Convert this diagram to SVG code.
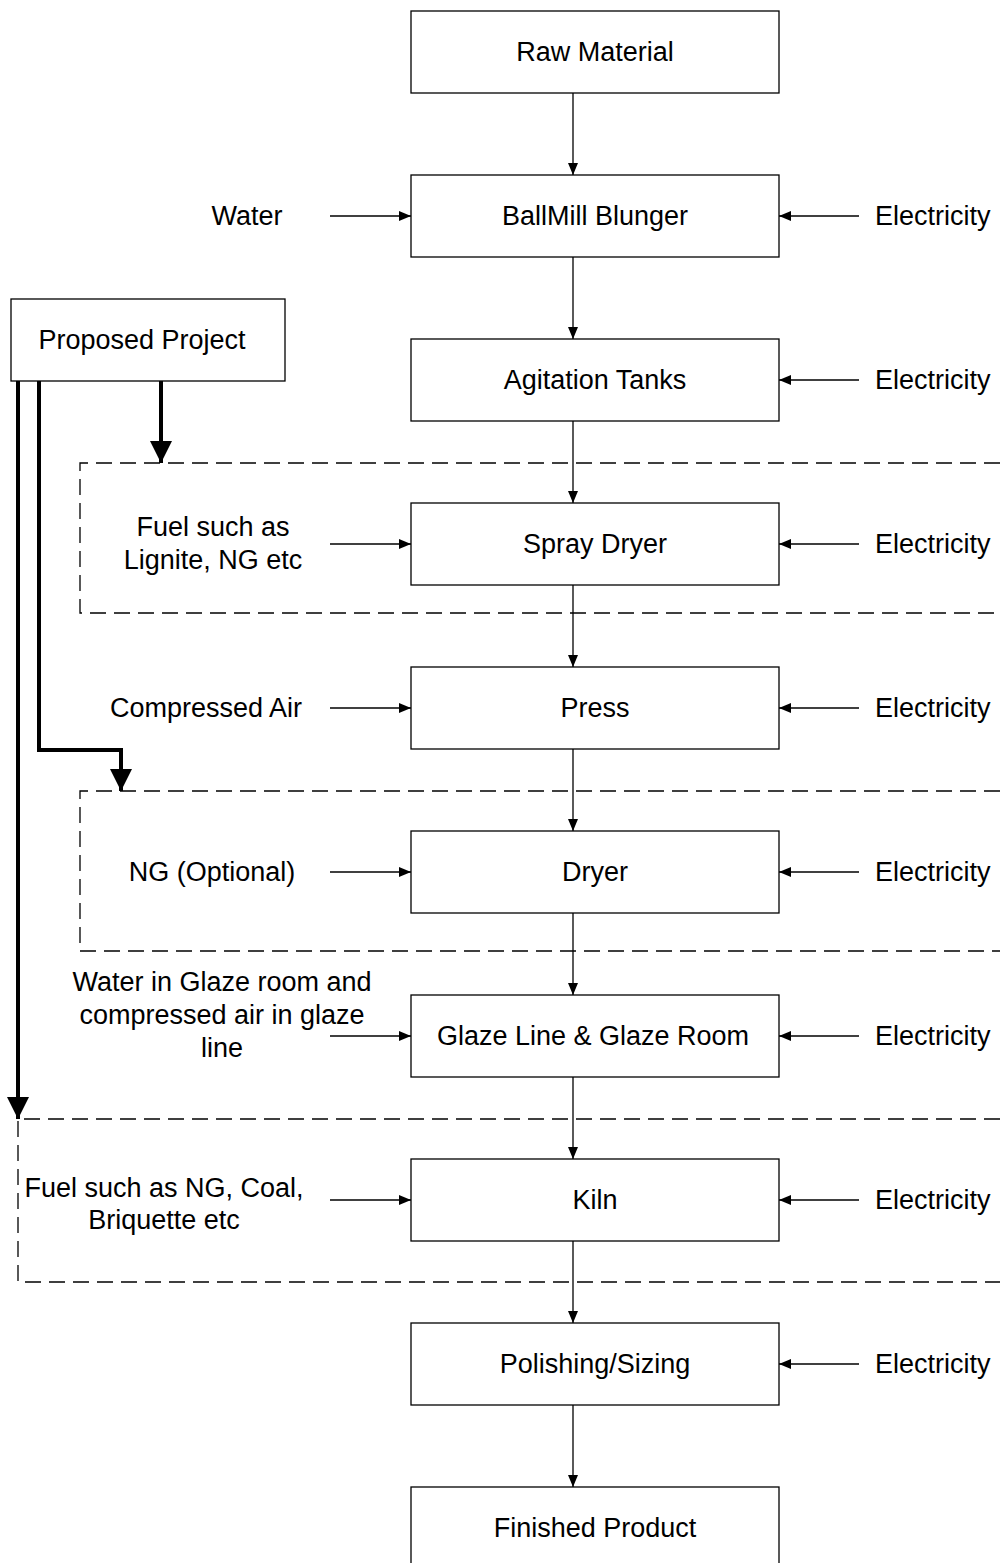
<svg xmlns="http://www.w3.org/2000/svg" width="1000" height="1563" viewBox="0 0 1000 1563">
<defs>
<marker id="ah" viewBox="0 0 12 10" refX="12" refY="5" markerWidth="12" markerHeight="10" markerUnits="userSpaceOnUse" orient="auto"><path d="M0,0 L12,5 L0,10 Z" fill="#000"/></marker>
<marker id="ahb" viewBox="0 0 22 22" refX="22" refY="11" markerWidth="22" markerHeight="22" markerUnits="userSpaceOnUse" orient="auto"><path d="M0,0 L22,11 L0,22 Z" fill="#000"/></marker>
</defs>
<style>
.box{fill:#fff;stroke:#000;stroke-width:1.3}
.t{font-family:"Liberation Sans",Arial,sans-serif;font-size:27px;fill:#000}
.m{text-anchor:middle}
.c{stroke:#000;stroke-width:1.3;fill:none;marker-end:url(#ah)}
.tk{stroke:#000;stroke-width:4;fill:none;marker-end:url(#ahb)}
.d{stroke:#000;stroke-width:1.3;fill:none;stroke-dasharray:16 8}
</style>
<rect width="1000" height="1563" fill="#fff"/>
<g id="dashed">
<path class="d" d="M1000,463 H80 V613 H1000"/>
<path class="d" d="M1000,791 H80 V951 H1000"/>
<path class="d" d="M1000,1119 H18 V1282 H1000"/>
</g>
<g id="connectors">
<line class="c" x1="573" y1="93" x2="573" y2="175"/>
<line class="c" x1="573" y1="257" x2="573" y2="339"/>
<line class="c" x1="573" y1="421" x2="573" y2="503"/>
<line class="c" x1="573" y1="585" x2="573" y2="667"/>
<line class="c" x1="573" y1="749" x2="573" y2="831"/>
<line class="c" x1="573" y1="913" x2="573" y2="995"/>
<line class="c" x1="573" y1="1077" x2="573" y2="1159"/>
<line class="c" x1="573" y1="1241" x2="573" y2="1323"/>
<line class="c" x1="573" y1="1405" x2="573" y2="1487"/>
<line class="c" x1="330" y1="216" x2="411" y2="216"/>
<line class="c" x1="330" y1="544" x2="411" y2="544"/>
<line class="c" x1="330" y1="708" x2="411" y2="708"/>
<line class="c" x1="330" y1="872" x2="411" y2="872"/>
<line class="c" x1="330" y1="1036" x2="411" y2="1036"/>
<line class="c" x1="330" y1="1200" x2="411" y2="1200"/>
<line class="c" x1="859" y1="216" x2="779" y2="216"/>
<line class="c" x1="859" y1="380" x2="779" y2="380"/>
<line class="c" x1="859" y1="544" x2="779" y2="544"/>
<line class="c" x1="859" y1="708" x2="779" y2="708"/>
<line class="c" x1="859" y1="872" x2="779" y2="872"/>
<line class="c" x1="859" y1="1036" x2="779" y2="1036"/>
<line class="c" x1="859" y1="1200" x2="779" y2="1200"/>
<line class="c" x1="859" y1="1364" x2="779" y2="1364"/>
<path class="tk" d="M161,381 V463"/>
<path class="tk" d="M39,381 V750 H121 V791"/>
<path class="tk" d="M18,381 V1119"/>
</g>
<g id="n-raw"><rect class="box" x="411" y="11" width="368" height="82"/><text class="t m" x="595" y="61">Raw Material</text></g>
<g id="n-ballmill"><rect class="box" x="411" y="175" width="368" height="82"/><text class="t m" x="595" y="225">BallMill Blunger</text></g>
<g id="n-agitation"><rect class="box" x="411" y="339" width="368" height="82"/><text class="t m" x="595" y="389">Agitation Tanks</text></g>
<g id="n-spray"><rect class="box" x="411" y="503" width="368" height="82"/><text class="t m" x="595" y="553">Spray Dryer</text></g>
<g id="n-press"><rect class="box" x="411" y="667" width="368" height="82"/><text class="t m" x="595" y="717">Press</text></g>
<g id="n-dryer"><rect class="box" x="411" y="831" width="368" height="82"/><text class="t m" x="595" y="881">Dryer</text></g>
<g id="n-glaze"><rect class="box" x="411" y="995" width="368" height="82"/><text class="t m" x="593" y="1045">Glaze Line &amp; Glaze Room</text></g>
<g id="n-kiln"><rect class="box" x="411" y="1159" width="368" height="82"/><text class="t m" x="595" y="1209">Kiln</text></g>
<g id="n-polish"><rect class="box" x="411" y="1323" width="368" height="82"/><text class="t m" x="595" y="1373">Polishing/Sizing</text></g>
<g id="n-finished"><rect class="box" x="411" y="1487" width="368" height="82"/><text class="t m" x="595" y="1537">Finished Product</text></g>
<g id="n-proposed"><rect class="box" x="11" y="299" width="274" height="82"/><text class="t m" x="142" y="349">Proposed Project</text></g>
<g id="inputs">
<text class="t m" x="247" y="225">Water</text>
<text class="t m" x="213" y="536">Fuel such as</text>
<text class="t m" x="213" y="569">Lignite, NG etc</text>
<text class="t m" x="206" y="717">Compressed Air</text>
<text class="t m" x="212" y="881">NG (Optional)</text>
<text class="t m" x="222" y="991">Water in Glaze room and</text>
<text class="t m" x="222" y="1024">compressed air in glaze</text>
<text class="t m" x="222" y="1057">line</text>
<text class="t m" x="164" y="1197">Fuel such as NG, Coal,</text>
<text class="t m" x="164" y="1229">Briquette etc</text>
<text class="t" x="875" y="225">Electricity</text>
<text class="t" x="875" y="389">Electricity</text>
<text class="t" x="875" y="553">Electricity</text>
<text class="t" x="875" y="717">Electricity</text>
<text class="t" x="875" y="881">Electricity</text>
<text class="t" x="875" y="1045">Electricity</text>
<text class="t" x="875" y="1209">Electricity</text>
<text class="t" x="875" y="1373">Electricity</text>
</g>
</svg>
